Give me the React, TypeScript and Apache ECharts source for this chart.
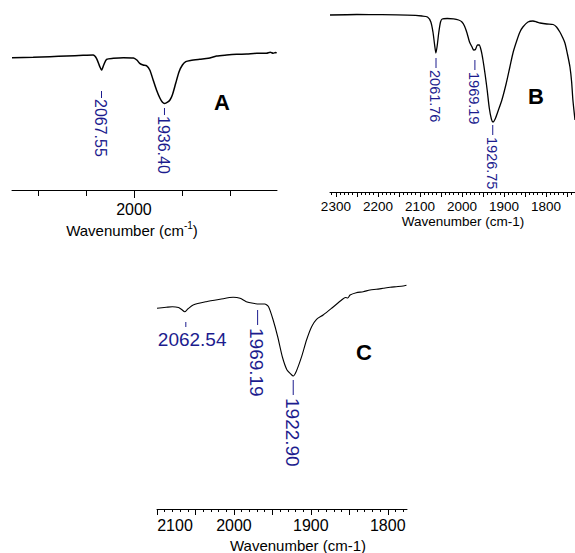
import React, { useEffect, useRef } from "react";
import * as echarts from "echarts";

const FONT = '"Liberation Sans", Arial, Helvetica, sans-serif';
const BLUE = "#1c1c8e";

// ---------- Panel A ----------
const specAx = [2254, 2210, 2175, 2140, 2106, 2085, 2078, 2071, 2067.5, 2063, 2057, 2043, 2022, 2001, 1994, 1988, 1981, 1974, 1967, 1960, 1953, 1946, 1941, 1936, 1930, 1925, 1920, 1913, 1906, 1899, 1892, 1882, 1863, 1845, 1828, 1807, 1786, 1765, 1744, 1724, 1716, 1710, 1705, 1703];
const specAy = [132.3, 132.7, 133.3, 134, 134.7, 135, 131.7, 123.3, 120, 125, 130.7, 131.7, 132.3, 132, 130, 126.7, 125, 124.3, 120, 110, 100, 92, 88, 86.5, 87.8, 90, 95, 106.7, 118.3, 125, 128.3, 129.5, 130.7, 131.7, 134, 135, 135.7, 136, 136.7, 136.7, 137.7, 136.8, 137.5, 136.7];
const peaksA = [2067.55, 1936.4];
const levelsA = [99, 82];
const ticksA = [2200, 2100, 2000, 1900, 1800];
const labelsA = [2000];

// ---------- Panel B ----------
const specBx = [2314, 2250, 2190, 2130, 2095, 2082, 2074, 2069, 2065, 2062, 2059, 2055, 2051, 2047, 2035, 2020, 2008, 2000, 1994, 1988, 1982, 1976, 1972, 1968, 1963, 1959, 1954, 1950, 1945, 1940, 1935, 1930, 1926, 1921, 1914, 1905, 1895, 1886, 1878, 1869, 1862, 1855, 1843, 1831, 1822, 1814, 1798, 1783, 1775, 1767, 1761, 1755, 1749, 1743, 1739, 1736, 1731];
const specBy = [177, 177.5, 177.3, 176.8, 176, 175, 170, 160, 147, 139, 146, 160, 170, 173, 173.5, 173.2, 172, 170, 166, 159, 150, 145, 142, 142.5, 147, 147, 141, 132, 118, 102, 84, 73, 70, 73, 81, 92, 108, 125, 140, 152, 160, 165, 170, 171, 170, 169, 168, 167.5, 165, 160, 155, 149, 138, 125, 110, 92, 72];
const peaksB = [2061.76, 1969.19, 1926.75];
const levelsB = [134, 132, 67];
const ticksBmajor = [2300, 2250, 2200, 2150, 2100, 2050, 2000, 1950, 1900, 1850, 1800, 1750];
const labelsB = [2300, 2200, 2100, 2000, 1900, 1800];

// ---------- Panel C ----------
const specCx = [2100, 2088, 2080, 2072, 2068, 2064, 2060, 2053, 2036, 2018, 2001, 1992, 1984, 1975, 1966, 1960, 1955, 1949, 1943, 1937, 1931, 1925.5, 1923, 1919, 1912, 1905.6, 1899, 1892.6, 1884, 1873, 1860, 1855, 1852, 1849, 1841, 1832, 1823, 1815, 1806, 1797, 1789, 1780, 1775.7];
const specCy = [200.7, 201.7, 202.3, 201.5, 199.5, 197.3, 200, 204, 207.3, 209.7, 211.7, 210.7, 207.3, 205.7, 205, 205, 202.3, 189, 172, 152, 139, 134.5, 133, 137.5, 152.3, 169, 182.3, 189.7, 194, 200.7, 209, 211.5, 211, 214, 216.3, 217.3, 219, 219.7, 220.7, 221.7, 222.3, 223, 223.7];
const peaksC = [2062.54, 1969.19, 1922.9];
const levelsC = [187, 199, 129];
const modesC = ["h", "v", "v"];
const ticksCmajor = [2100, 2050, 2000, 1950, 1900, 1850, 1800];
const labelsC = [2100, 2000, 1900, 1800];

function range(from: number, to: number, step: number) {
  const out: number[] = [];
  for (let v = from; v >= to; v -= step) out.push(v);
  return out;
}

const ticksBminor = range(2310, 1740, 10);
const ticksCminor = range(2100, 1780, 10);

function zip(xs: number[], ys: number[]) {
  return xs.map((x, i) => [x, ys[i]]);
}

function majorAxis(grid: number, min: number, max: number, ticks: number[], labels: number[], tickLen: number, fontSize: number, margin: number, shiftMax = false) {
  return {
    type: "value",
    gridIndex: grid,
    position: "bottom",
    min,
    max,
    inverse: true,
    axisLine: { show: true, onZero: false, lineStyle: { color: "#000", width: 1 } },
    axisTick: { show: true, length: tickLen, customValues: ticks, lineStyle: { color: "#000", width: 1 } },
    axisLabel: {
      show: true,
      customValues: labels,
      fontSize,
      fontFamily: FONT,
      color: "#000",
      margin,
      formatter: (v: number) => (shiftMax && v === max ? `{m|${v}}` : String(v)),
      rich: {
        m: { fontSize, fontFamily: FONT, color: "#000", padding: [0, 0, 0, 36] },
      },
    },
    splitLine: { show: false },
    minorTick: { show: false },
  };
}

function minorAxis(grid: number, min: number, max: number, ticks: number[], tickLen: number) {
  return {
    type: "value",
    gridIndex: grid,
    position: "bottom",
    offset: 0,
    min,
    max,
    inverse: true,
    axisLine: { show: false, onZero: false },
    axisTick: { show: true, length: tickLen, customValues: ticks, lineStyle: { color: "#000", width: 1 } },
    axisLabel: { show: false },
    splitLine: { show: false },
  };
}

function labelSeries(grid: number, peaks: number[], levels: number[], fontSize: number, leader: number, gap: number, modes?: string[]) {
  return {
    type: "custom",
    coordinateSystem: "cartesian2d",
    xAxisIndex: grid * 2,
    yAxisIndex: grid,
    silent: true,
    clip: false,
    data: peaks.map((p, i) => [p, levels[i]]),
    renderItem: (params: any, api: any) => {
      const i = params.dataIndex;
      const pt = api.coord([api.value(0), api.value(1)]);
      const text = peaks[i].toFixed(2);
      const mode = modes ? modes[i] : "v";
      const font = `${fontSize}px ${FONT}`;
      if (mode === "h") {
        return {
          type: "group",
          children: [
            { type: "line", shape: { x1: pt[0], y1: pt[1], x2: pt[0], y2: pt[1] + 5 }, style: { stroke: BLUE, lineWidth: 1 } },
            { type: "text", x: pt[0] - 28, y: pt[1] + 8, style: { text, fill: BLUE, font, align: "left", verticalAlign: "top" } },
          ],
        };
      }
      return {
        type: "group",
        children: [
          { type: "line", shape: { x1: pt[0], y1: pt[1], x2: pt[0], y2: pt[1] + leader }, style: { stroke: BLUE, lineWidth: 1 } },
          {
            type: "text",
            x: pt[0] - 1,
            y: pt[1] + leader + gap,
            rotation: -Math.PI / 2,
            style: { text, fill: BLUE, font, align: "left", verticalAlign: "middle" },
          },
        ],
      };
    },
  };
}

function lineSeries(grid: number, data: number[][], width: number) {
  return {
    type: "line",
    xAxisIndex: grid * 2,
    yAxisIndex: grid,
    data,
    showSymbol: false,
    symbol: "none",
    smooth: 0.25,
    lineStyle: { color: "#000", width },
    silent: true,
  };
}

function titleText(x: number, y: number, size: number, sup: boolean) {
  const text = sup ? "{a|Wavenumber (cm}{s|-1}{a|)}" : "{a|Wavenumber (cm-1)}";
  return {
    type: "text",
    x,
    y,
    style: {
      text,
      align: "center",
      verticalAlign: "middle",
      fill: "#000",
      rich: {
        a: { fontSize: size, fontFamily: FONT, fill: "#000", lineHeight: size + 4 },
        s: { fontSize: Math.round(size * 0.65), fontFamily: FONT, fill: "#000", verticalAlign: "top" },
      },
    },
  };
}

function letter(x: number, y: number, t: string) {
  return {
    type: "text",
    x,
    y,
    style: { text: t, font: `bold 22px ${FONT}`, fill: "#000", align: "center", verticalAlign: "middle" },
  };
}

export default function App() {
  const ref = useRef<HTMLDivElement>(null);
  useEffect(() => {
    if (!ref.current) return;
    const chart = echarts.init(ref.current, null, { renderer: "svg" });
    chart.setOption({
      animation: false,
      backgroundColor: "#fff",
      grid: [
        { left: 12, top: 30, width: 265, height: 160, outerBoundsMode: "none" },
        { left: 330, top: 2, width: 245, height: 190, outerBoundsMode: "none" },
        { left: 157, top: 269, width: 250, height: 240, outerBoundsMode: "none" },
      ],
      xAxis: [
        majorAxis(0, 1702, 2254, ticksA, labelsA, 6, 16, 11),
        minorAxis(0, 1702, 2254, labelsA, 8),
        majorAxis(1, 1731, 2314, ticksBmajor, labelsB, 5, 13.5, 7),
        minorAxis(1, 1731, 2314, ticksBminor, 3),
        majorAxis(2, 1775, 2100, ticksCmajor, labelsC, 6, 16, 8, true),
        minorAxis(2, 1775, 2100, ticksCminor, 3),
      ],
      yAxis: [
        { type: "value", gridIndex: 0, min: 0, max: 160, show: false },
        { type: "value", gridIndex: 1, min: 0, max: 190, show: false },
        { type: "value", gridIndex: 2, min: 0, max: 240, show: false },
      ],
      series: [
        lineSeries(0, zip(specAx, specAy), 1.5),
        lineSeries(1, zip(specBx, specBy), 1.3),
        lineSeries(2, zip(specCx, specCy), 1.1),
        labelSeries(0, peaksA, levelsA, 16, 7, 1),
        labelSeries(1, peaksB, levelsB, 14.5, 10, 2),
        labelSeries(2, peaksC, levelsC, 19, 15, 3, modesC),
      ],
      graphic: [
        titleText(132, 230, 15, true),
        titleText(463, 221, 13.5, false),
        titleText(298, 545, 15, false),
        letter(222, 102, "A"),
        letter(536, 96, "B"),
        letter(364, 352, "C"),
      ],
    });
    return () => chart.dispose();
  }, []);
  return <div ref={ref} style={{ position: "fixed", left: 0, top: 0, width: 575, height: 553 }} />;
}
